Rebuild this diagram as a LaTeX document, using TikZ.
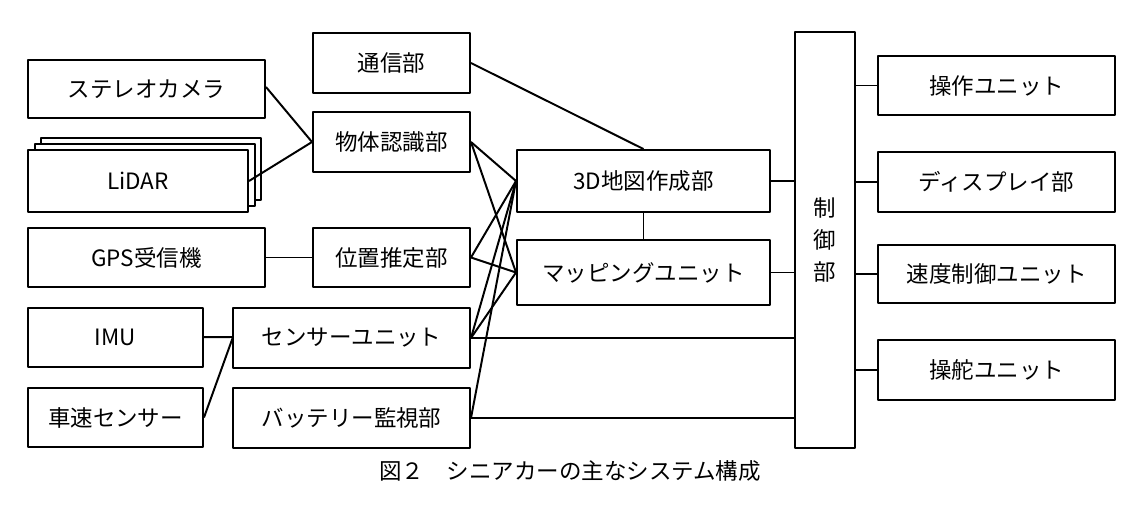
\documentclass[tikz,border=0pt]{standalone}
\usepackage{fontspec}
\setmainfont{Noto Sans CJK JP}
\begin{document}
\begin{tikzpicture}[x=0.025cm,y=-0.025cm,line width=1.4pt,line join=round,
  box/.style={draw,fill=white,inner sep=0pt,font=\fontsize{16}{19}\selectfont},
  link/.style={draw}]
  \useasboundingbox (0,0) rectangle (1140,526);
  % left column
  \node[box,minimum width=237*0.025cm,minimum height=58*0.025cm] (stereo) at (146.5,89) {ステレオカメラ};
  \node[box,minimum width=220*0.025cm,minimum height=62*0.025cm] (lidar3) at (41+110,169) {};
  \node[box,minimum width=220*0.025cm,minimum height=62*0.025cm] (lidar2) at (35+110,175) {};
  \node[box,minimum width=220*0.025cm,minimum height=62*0.025cm] (lidar) at (28+110,181) {LiDAR};
  \node[box,minimum width=237*0.025cm,minimum height=59*0.025cm] (gps) at (146.5,257.5) {GPS受信機};
  \node[box,minimum width=175*0.025cm,minimum height=59*0.025cm] (imu) at (115.5,337.5) {IMU};
  \node[box,minimum width=175*0.025cm,minimum height=59*0.025cm] (speed) at (115.5,417.5) {車速センサー};
  % middle column
  \node[box,minimum width=157*0.025cm,minimum height=60*0.025cm] (comm) at (391.5,63) {通信部};
  \node[box,minimum width=157*0.025cm,minimum height=60*0.025cm] (object) at (391.5,142) {物体認識部};
  \node[box,minimum width=157*0.025cm,minimum height=59*0.025cm] (locate) at (391.5,257.5) {位置推定部};
  \node[box,minimum width=237*0.025cm,minimum height=60*0.025cm] (sensor) at (351.5,338) {センサーユニット};
  \node[box,minimum width=237*0.025cm,minimum height=60*0.025cm] (battery) at (351.5,418) {バッテリー監視部};
  % maps
  \node[box,minimum width=253*0.025cm,minimum height=62*0.025cm] (map3d) at (643.5,181) {3D地図作成部};
  \node[box,minimum width=253*0.025cm,minimum height=65*0.025cm] (mapping) at (643.5,272.5) {マッピングユニット};
  % control
  \node[box,minimum width=60*0.025cm,minimum height=416*0.025cm,align=center] (ctrl) at (825,240) {制\\[4pt]御\\[4pt]部};
  % right column
  \node[box,minimum width=237*0.025cm,minimum height=59*0.025cm] (ops) at (996.5,85.5) {操作ユニット};
  \node[box,minimum width=237*0.025cm,minimum height=60*0.025cm] (display) at (996.5,182) {ディスプレイ部};
  \node[box,minimum width=237*0.025cm,minimum height=58*0.025cm] (velocity) at (996.5,274) {速度制御ユニット};
  \node[box,minimum width=237*0.025cm,minimum height=60*0.025cm] (steer) at (996.5,370) {操舵ユニット};
  \coordinate (join) at (233,337);
  % connectors
  \draw[link] (stereo.east) ++(0,-2) -- (object.west);
  \draw[link] (lidar.east) -- (object.west);
  \draw[link] (gps) -- (locate);
  \draw[link] (imu) -- (join);
  \draw[link] (speed.east) -- (join);
  \draw[link] (comm.east) ++(0,-0) -- (map3d.north);
  \foreach \src in {object,locate,sensor,battery}
    \draw[link] (\src.east) -- (map3d.west);
  \foreach \src in {object,locate,sensor}
    \draw[link] (\src.east) -- (mapping.west);
  \draw[link] (map3d) -- (mapping);
  \draw[link] (map3d.east) -- (map3d.east -| ctrl.west);
  \draw[link] (mapping.east) -- (mapping.east -| ctrl.west);
  \draw[link] (sensor.east) -- (sensor.east -| ctrl.west);
  \draw[link] (battery.east) -- (battery.east -| ctrl.west);
  \foreach \dst in {ops,display,velocity,steer}
    \draw[link] (\dst.west -| ctrl.east) -- (\dst.west);
  \node[font=\fontsize{16}{19}\selectfont] (caption) at (570,471) {図２　シニアカーの主なシステム構成};
\end{tikzpicture}
\end{document}
